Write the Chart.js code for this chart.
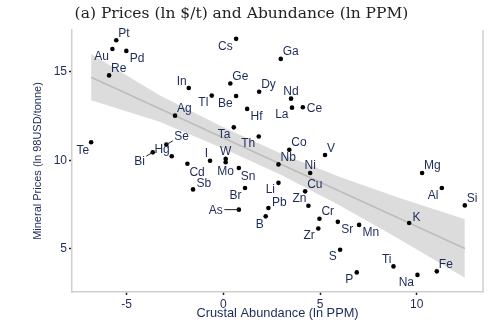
<!DOCTYPE html>
<html>
<head>
<meta charset="utf-8">
<script src="https://cdn.jsdelivr.net/npm/chart.js@4.4.0/dist/chart.umd.min.js"></script>
<style>
  html, body { margin: 0; padding: 0; background: #fff; }
  canvas { display: block; }
</style>
</head>
<body>
<canvas id="chart" width="494" height="333"></canvas>
<script>
// ==== Données
const elements = ["Pt", "Au", "Pd", "Re", "Cs", "Ga", "In", "Ge", "Dy", "Nd", "Tl", "Be", "Hf", "La", "Ce",
  "Ag", "Ta", "Th", "Co", "Te", "Se", "Hg", "Bi", "I", "W", "Mo", "Cd", "Sn", "Nb", "V", "Ni", "Mg",
  "Sb", "Li", "Cu", "Br", "Al", "Si", "Pb", "Zn", "As", "B", "Cr", "Zr", "Sr", "Mn", "K", "S", "Ti",
  "P", "Na", "Fe"];
const abundance = [-5.54, -5.74, -5.02, -5.91, 0.66, 2.97, -1.79, 0.36, 1.85, 3.50, -0.60, 0.66, 1.23, 3.55, 4.11,
  -2.50, 0.54, 1.83, 3.41, -6.84, -2.95, -2.67, -3.65, -0.69, 0.12, 0.12, -1.86, 0.80, 2.85, 5.26, 4.49, 10.28,
  -1.57, 2.85, 4.23, 1.12, 11.30, 12.49, 2.33, 4.40, 0.80, 2.19, 4.97, 4.91, 5.92, 7.02, 9.61, 6.04, 8.80,
  6.90, 10.04, 11.04];
const prices = [16.77, 16.28, 16.17, 14.79, 16.85, 15.72, 14.08, 14.33, 13.87, 13.48, 13.65, 13.63, 12.90, 12.97, 12.99,
  12.52, 11.86, 11.34, 10.60, 11.02, 10.89, 10.23, 10.45, 9.98, 10.08, 9.89, 9.81, 9.57, 9.77, 10.30, 9.29, 9.29,
  8.36, 8.73, 8.25, 8.44, 8.44, 7.46, 7.31, 7.44, 7.22, 6.84, 6.71, 6.16, 6.53, 6.36, 6.47, 4.96, 4.02,
  3.68, 3.54, 3.74];

// droite ajustée + intervalle de confiance
const fitX = [-6.84, 12.49];
const fitY = [14.69, 5.03];
const bandX = [-6.84, -3.3, 0, 3, 6, 9, 12.49];
const bandHi = [15.99, 13.67, 11.87, 10.37, 9.07, 7.92, 6.68];
const bandLo = [13.39, 12.17, 10.67, 9.17, 7.47, 5.62, 3.38];

const xTicks = [-5, 0, 5, 10];
const yTicks = [5, 10, 15];

// ==== Position des étiquettes (horaire, façon mlabvpos) + traits de rappel
const labelPos = {
  Pt: 1, Au: 8, Pd: 4, Re: 1, Cs: 8, Ga: 1, In: 11, Ge: 1, Dy: 1, Nd: 12, Tl: 8, Be: 8, Hf: 4, La: 8,
  Ce: 3, Ag: 1, Ta: 8, Th: 8, Co: 1, Te: 7, Se: 2, Hg: 11, Bi: 8, I: 11, W: 12, Mo: 6, Cd: 5, Sn: 5,
  Nb: 1, V: 1, Ni: 12, Mg: 1, Sb: 2, Li: 8, Cu: 1, Br: 8, Al: 8, Si: 1, Pb: 2, Zn: 11, As: 9, B: 7,
  Cr: 1, Zr: 8, Sr: 4, Mn: 4, K: 2, S: 8, Ti: 11, P: 8, Na: 8, Fe: 1
};
const leaderGap = { Se: 9, Bi: 9, As: 16 };

const NAVY = "#1c2a58";
const LABEL_SIZE = 12;

// ==== Helpers
function pts(xs, ys) {
  return xs.map((x, i) => ({ x: x, y: ys[i] }));
}

// ==== Plugins
const pointLabels = {
  id: "pointLabels",
  afterDatasetsDraw(chart) {
    const meta = chart.getDatasetMeta(0);
    const ctx = chart.ctx;
    const capH = 0.72 * LABEL_SIZE;
    ctx.save();
    ctx.font = LABEL_SIZE + "px 'Liberation Sans', Arial, sans-serif";
    ctx.fillStyle = NAVY;
    ctx.strokeStyle = "#222";
    ctx.lineWidth = 1;
    meta.data.forEach((pt, i) => {
      const name = elements[i];
      const pos = labelPos[name] || 3;
      const lead = leaderGap[name];
      const g = lead || 4;
      const a = pos * Math.PI / 6;
      const dx = Math.sin(a), dy = -Math.cos(a);
      const ax = pt.x + dx * g, ay = pt.y + dy * g;
      const w = ctx.measureText(name).width;
      let left = ax - w / 2;
      if (dx > 0.3) left = ax;
      else if (dx < -0.3) left = ax - w;
      let cy = ay;
      if (dy < -0.3) cy = ay - capH / 2;
      else if (dy > 0.3) cy = ay + capH / 2;
      ctx.textBaseline = "alphabetic";
      ctx.fillText(name, left, cy + capH / 2);
      if (lead) {
        ctx.beginPath();
        ctx.moveTo(pt.x, pt.y);
        ctx.lineTo(pt.x + dx * (g - 1.5), pt.y + dy * (g - 1.5));
        ctx.stroke();
      }
    });
    ctx.restore();
  }
};

const rightEdge = {
  id: "rightEdge",
  afterDraw(chart) {
    const { ctx, chartArea } = chart;
    ctx.save();
    ctx.strokeStyle = "#cfcfcf";
    ctx.lineWidth = 1.5;
    ctx.beginPath();
    ctx.moveTo(chartArea.right, chartArea.top);
    ctx.lineTo(chartArea.right, chartArea.bottom);
    ctx.stroke();
    ctx.restore();
  }
};

// ==== Graphique
const axisTick = { size: 12, family: "'Liberation Sans', Arial, sans-serif" };

new Chart(document.getElementById("chart").getContext("2d"), {
  type: "scatter",
  data: {
    datasets: [
      {
        data: pts(abundance, prices),
        backgroundColor: "#000",
        borderColor: "#000",
        pointRadius: 2.3,
        borderWidth: 0,
      },
      {
        data: pts(fitX, fitY),
        showLine: true,
        borderColor: "#bdbdbd",
        borderWidth: 1.6,
        pointRadius: 0,
      },
      {
        data: pts(bandX, bandLo),
        showLine: true,
        borderWidth: 0,
        pointRadius: 0,
      },
      {
        data: pts(bandX, bandHi),
        showLine: true,
        borderWidth: 0,
        pointRadius: 0,
        fill: 2,
        backgroundColor: "#dcdcdc",
      },
    ],
  },
  options: {
    responsive: false,
    animation: false,
    devicePixelRatio: 1,
    layout: { padding: { left: 0, right: 11, top: 0, bottom: 0 } },
    plugins: {
      legend: { display: false },
      tooltip: { enabled: false },
      title: {
        display: true,
        text: "(a) Prices (ln $/t) and Abundance (ln PPM)",
        color: "#222",
        font: { family: "'DejaVu Serif', serif", size: 15.5, weight: "normal", lineHeight: 1.2 },
        padding: { top: 5, bottom: 6.4 },
      },
    },
    scales: {
      x: {
        type: "linear",
        min: -7.83,
        max: 13.43,
        afterBuildTicks: (s) => { s.ticks = xTicks.map((v) => ({ value: v })); },
        afterFit: (s) => { s.height = 41; },
        ticks: { color: NAVY, font: axisTick, padding: 2 },
        grid: { drawOnChartArea: false, drawTicks: true, tickLength: 3, color: "#222", tickWidth: 1.5 },
        border: { color: "#cfcfcf", width: 1.5 },
        title: {
          display: true,
          text: "Crustal Abundance (ln PPM)",
          color: NAVY,
          font: { size: 12.8, family: "'Liberation Sans', Arial, sans-serif" },
          padding: { top: 0, bottom: 11.5 },
        },
      },
      y: {
        type: "linear",
        min: 2.575,
        max: 17.35,
        afterBuildTicks: (s) => { s.ticks = yTicks.map((v) => ({ value: v })); },
        afterFit: (s) => { s.width = 72; },
        ticks: { color: NAVY, font: axisTick, padding: 2 },
        grid: { drawOnChartArea: false, drawTicks: true, tickLength: 3, color: "#222", tickWidth: 1.5 },
        border: { color: "#cfcfcf", width: 1.5 },
        title: {
          display: true,
          text: "Mineral Prices (ln 98USD/tonne)",
          color: NAVY,
          font: { size: 11, family: "'Liberation Sans', Arial, sans-serif" },
          padding: { top: 31, bottom: 0 },
        },
      },
    },
  },
  plugins: [pointLabels, rightEdge],
});
</script>
</body>
</html>
